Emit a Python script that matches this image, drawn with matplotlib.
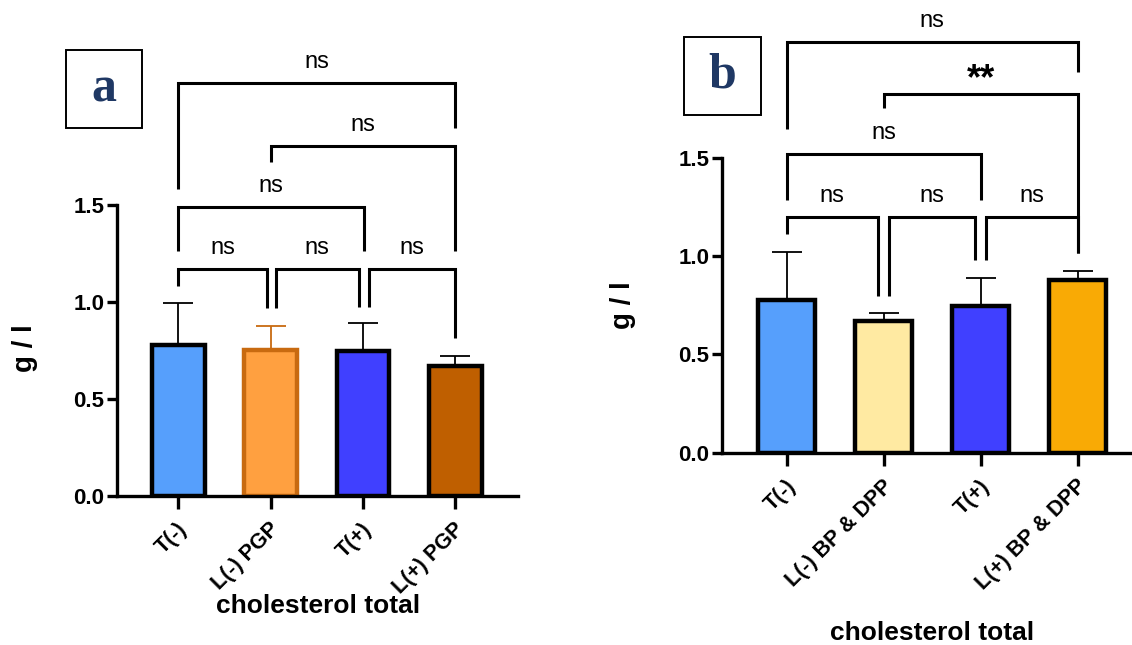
import matplotlib
matplotlib.use("Agg")
import matplotlib.pyplot as plt
import matplotlib.transforms as mtransforms
from matplotlib.patches import Rectangle

# ---------------- data ----------------
cats_a = ["T(-)", "L(-) PGP", "T(+)", "L(+) PGP"]
means_a = [0.78, 0.755, 0.745, 0.67]
sd_a = [0.215, 0.12, 0.145, 0.05]
fill_a = ["#569FFC", "#FFA040", "#4040FF", "#BF5F00"]
edge_a = ["black", "#C86A10", "black", "black"]

cats_b = ["T(-)", "L(-) BP & DPP", "T(+)", "L(+) BP & DPP"]
means_b = [0.775, 0.668, 0.745, 0.877]
sd_b = [0.245, 0.04, 0.145, 0.048]
fill_b = ["#569FFC", "#FFEAA2", "#4040FF", "#F9AA05"]
edge_b = ["black", "black", "black", "black"]

# comparisons: (left, right, bracket y, left leg bottom, right leg bottom, label)
comp_a = [
    (0.00, 0.957, 1.170, 1.082, 0.969, "ns"),
    (1.054, 1.957, 1.170, 0.969, 0.974, "ns"),
    (2.065, 3.00, 1.170, 0.974, 0.814, "ns"),
    (0.00, 2.01, 1.490, 1.263, 1.263, "ns"),
    (1.00, 3.00, 1.804, 1.722, 1.263, "ns"),
    (0.00, 3.00, 2.129, 1.582, 1.897, "ns"),
]
comp_b = [
    (0.00, 0.94, 1.200, 1.113, 0.798, "ns"),
    (1.05, 1.94, 1.200, 0.798, 0.981, "ns"),
    (2.05, 3.00, 1.200, 0.981, 1.017, "ns"),
    (0.00, 2.00, 1.520, 1.286, 1.286, "ns"),
    (1.00, 3.00, 1.825, 1.754, 1.017, "**"),
    (0.00, 3.00, 2.090, 1.647, 1.937, "ns"),
]

yticks = [0.0, 0.5, 1.0, 1.5]
ylabel = "g / l"
xlabel = "cholesterol total"

# ---------------- figure ----------------
W, H = 1132, 645
fig = plt.figure(figsize=(W / 100, H / 100), dpi=100)
SANS = ["Liberation Sans", "DejaVu Sans"]
plt.rcParams["font.family"] = SANS


def px_axes(left, right, bottom, scale, ymax=2.3):
    height = scale * ymax
    return fig.add_axes([left / W, (H - bottom) / H, (right - left) / W, height / H])


def draw_panel(ax, cats, means, sd, fills, edges, comps, xlim, barw, scale):
    x = list(range(len(cats)))
    for i in x:
        ax.errorbar(i, means[i], yerr=[[0], [sd[i]]], fmt="none",
                    ecolor=edges[i],
                    elinewidth=1.3, capsize=10.5, capthick=1.3, zorder=2)
    ax.bar(x, means, width=barw, color=fills, edgecolor=edges,
           linewidth=3.2, zorder=3)
    ax.set_xlim(*xlim)
    ax.set_ylim(0, 2.3)
    for s in ["top", "right"]:
        ax.spines[s].set_visible(False)
    ax.spines["left"].set_bounds(0, 1.5)
    for s in ["left", "bottom"]:
        ax.spines[s].set_linewidth(2.4)
        ax.spines[s].set_zorder(4)
    ax.set_yticks(yticks)
    ax.set_yticklabels([f"{v:.1f}" for v in yticks], fontsize=16,
                       fontweight="bold")
    ax.tick_params(axis="y", length=7, width=2.4, pad=2)
    ax.tick_params(axis="x", length=9, width=2.4, pad=2)
    ax.set_xticks(x)
    ax.set_xticklabels(cats, rotation=45, ha="right", va="center",
                       rotation_mode="anchor", fontsize=15.5, fontweight="bold")
    off = mtransforms.ScaledTranslation(6 / 100, -15 / 100, fig.dpi_scale_trans)
    for lab in ax.get_xticklabels():
        lab.set_transform(lab.get_transform() + off)
    ax.patch.set_visible(False)

    for (xl, xr, yb, ybl, ybr, lab) in comps:
        ax.plot([xl, xl, xr, xr], [ybl, yb, yb, ybr], color="black",
                lw=2.2, solid_joinstyle="miter", solid_capstyle="butt",
                clip_on=False, zorder=5)
        if lab == "**":
            ax.text((xl + xr) / 2, yb + 14 / scale, lab, ha="center",
                    va="center", fontsize=26, fontweight="bold")
        else:
            ax.text((xl + xr) / 2, yb + 21 / scale, lab, ha="center",
                    va="center", fontsize=17)


# panel a
ax_a = px_axes(117, 518, 496, 194.0)
draw_panel(ax_a, cats_a, means_a, sd_a, fill_a, edge_a, comp_a,
           (-0.664, 3.68), 0.57, 194.0)
# panel b
ax_b = px_axes(721.7, 1132, 452.7, 196.7)
draw_panel(ax_b, cats_b, means_b, sd_b, fill_b, edge_b, comp_b,
           (-0.67, 3.56), 0.59, 196.7)

# axis labels (positioned in figure pixels)
fig.text(25 / W, 1 - 348 / H, ylabel, rotation=90, ha="center", va="center",
         fontsize=20, fontweight="bold")
fig.text(623 / W, 1 - 305 / H, ylabel, rotation=90, ha="center", va="center",
         fontsize=20, fontweight="bold")
fig.text(318 / W, 1 - 606 / H, xlabel, ha="center", va="center",
         fontsize=19, fontweight="bold")
fig.text(932 / W, 1 - 633 / H, xlabel, ha="center", va="center",
         fontsize=19, fontweight="bold")

# panel letters in boxes
for (l, t, r, b, letter) in [(66, 50, 142, 128, "a"), (684, 37, 761, 115, "b")]:
    fig.patches.append(Rectangle((l / W, 1 - b / H), (r - l) / W, (b - t) / H,
                                 transform=fig.transFigure, fill=False,
                                 edgecolor="black", lw=1.4))
    fig.text((l + r) / 2 / W, 1 - (t + b) / 2 / H, letter, ha="center",
             va="center", fontsize=36, fontweight="bold",
             family=["Liberation Serif", "DejaVu Serif"], color="#1F3864")

fig.savefig("out.png", dpi=100)
